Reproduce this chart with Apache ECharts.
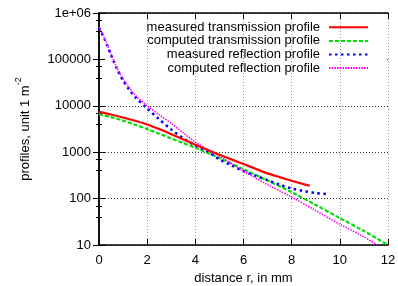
<!DOCTYPE html>
<html>
<head>
    <meta charset="utf-8">
    <title>profiles</title>
    <script src="https://cdn.jsdelivr.net/npm/echarts@6/dist/echarts.min.js"></script>
    <style>
        html, body { margin: 0; padding: 0; background: #fff; }
        #main { width: 398px; height: 286px; }
    </style>
</head>
<body>
<div id="main"></div>
<script type="text/javascript">

    // series names
    var seriesNames = ['measured transmission profile', 'computed transmission profile',
        'measured reflection profile', 'computed reflection profile'];

    // [distance r in mm, profile value]
    var measuredTransmission = [
        [0, 7400], [0.5, 6500], [1, 5600], [1.5, 4750], [2, 3950], [2.5, 3150], [3, 2450],
        [3.5, 1880], [4, 1450], [4.5, 1130], [5, 880], [5.5, 700], [6, 557], [6.5, 440],
        [7, 350], [7.5, 290], [8, 243], [8.5, 205], [8.75, 190]
    ];
    var computedTransmission = [
        [0, 6600], [0.5, 5700], [1, 4800], [1.5, 3900], [2, 3150], [2.5, 2500], [3, 1980],
        [3.5, 1570], [4, 1250], [5, 750], [6, 430], [7, 245], [8, 137], [9, 73],
        [10, 38], [11, 20], [12, 10]
    ];
    var measuredReflection = [
        [0, 480000], [0.25, 260000], [0.5, 125000], [0.75, 62000], [1, 35000], [1.25, 22500],
        [1.5, 15500], [2, 8800], [2.5, 5100], [3, 3100], [3.5, 2000], [4, 1400], [4.5, 1050],
        [5, 700], [5.5, 520], [6, 390], [6.5, 310], [7, 250], [7.5, 200], [8, 165],
        [8.5, 145], [9, 132], [9.5, 124]
    ];
    var computedReflection = [
        [0, 500000], [0.25, 270000], [0.5, 130000], [0.75, 65000], [1, 38000], [1.25, 25000],
        [1.5, 17000], [2, 10000], [2.5, 6400], [3, 4200], [3.5, 2600], [4, 1650], [4.5, 1150],
        [5, 820], [6, 390], [7, 200], [8, 108], [9, 55], [10, 28], [11, 15], [11.55, 10]
    ];

    // ticks
    var xTicks = [0, 2, 4, 6, 8, 10, 12];
    var yTicks = [10, 100, 1000, 10000, 100000, 1000000];
    var yTickText = ['10', '100', '1000', '10000', '100000', '1e+06'];

    var font = 'Liberation Sans';

    function yLabel(v) {
        var best = 0;
        for (var i = 0; i < yTicks.length; i++) {
            if (Math.abs(Math.log10(yTicks[i]) - Math.log10(v)) < Math.abs(Math.log10(yTicks[best]) - Math.log10(v))) best = i;
        }
        return yTickText[best];
    }

    var myChart = echarts.init(document.getElementById('main'));

    var option = {
        animation: false,
        textStyle: { fontFamily: font },
        grid: { left: 99, right: 10, top: 13, bottom: 41, outerBoundsMode: 'none' },
        legend: {
            orient: 'vertical',
            right: 24,
            top: 15.5,
            align: 'right',
            itemWidth: 39,
            itemHeight: 8,
            itemGap: 0,
            itemStyle: { color: 'transparent', borderWidth: 0, opacity: 0 },
            textStyle: { fontFamily: font, fontSize: 13, color: '#000', lineHeight: 13.6, padding: [0, 4, 0, 0] },
            data: seriesNames
        },
        graphic: [{
            type: 'rect',
            z: 1,
            shape: { x: 105, y: 14, width: 282, height: 73 },
            style: { fill: '#fff' }
        }],
        xAxis: [{
            type: 'value',
            min: xTicks[0],
            max: xTicks[xTicks.length - 1],
            interval: 2,
            z: 3,
            name: 'distance r, in mm',
            nameLocation: 'middle',
            nameGap: 27,
            nameTextStyle: { fontFamily: font, fontSize: 13, color: '#000' },
            axisLine: { lineStyle: { color: '#000', width: 1.5 } },
            axisTick: { inside: true, length: 6, lineStyle: { color: '#000' } },
            axisLabel: { margin: 9, fontFamily: font, fontSize: 13, color: '#000' },
            splitLine: { show: true, lineStyle: { color: '#999', type: [1, 2], width: 1 } }
        }, {
            type: 'value',
            position: 'top',
            min: xTicks[0],
            max: xTicks[xTicks.length - 1],
            interval: 2,
            z: 3,
            axisLine: { lineStyle: { color: '#000', width: 1.5 } },
            axisTick: { inside: true, length: 6, lineStyle: { color: '#000' } },
            axisLabel: { show: false },
            splitLine: { show: false }
        }],
        yAxis: [{
            type: 'log',
            logBase: 10,
            min: yTicks[0],
            max: yTicks[yTicks.length - 1],
            name: '{n|profiles, unit 1 m}{s|-2}',
            nameLocation: 'middle',
            nameGap: 67,
            nameTextStyle: {
                fontFamily: font, fontSize: 13, color: '#000',
                rich: {
                    n: { fontFamily: font, fontSize: 13, color: '#000', lineHeight: 18, verticalAlign: 'bottom' },
                    s: { fontFamily: font, fontSize: 9, color: '#000', lineHeight: 18, verticalAlign: 'top' }
                }
            },
            axisLine: { lineStyle: { color: '#000', width: 1.5 } },
            axisTick: { inside: true, length: 6, lineStyle: { color: '#000' } },
            minorTick: { show: true, splitNumber: 3, length: 3, lineStyle: { color: '#000' } },
            axisLabel: { margin: 8, fontFamily: font, fontSize: 13, color: '#000', formatter: yLabel },
            splitLine: { show: true, lineStyle: { color: '#333', type: [1, 2], width: 1 } }
        }, {
            type: 'log',
            logBase: 10,
            position: 'right',
            min: yTicks[0],
            max: yTicks[yTicks.length - 1],
            z: 3,
            axisLine: { show: true, lineStyle: { color: '#000', width: 1.5 } },
            axisTick: { show: true, inside: true, length: 6, lineStyle: { color: '#000' } },
            minorTick: { show: true, splitNumber: 3, length: 3, lineStyle: { color: '#000' } },
            axisLabel: { show: false },
            splitLine: { show: false }
        }],
        series: [{
            name: seriesNames[0],
            type: 'line',
            smooth: 0.3,
            symbol: 'none',
            z: 5,
            color: '#ff0000',
            lineStyle: { color: '#ff0000', width: 2.2 },
            data: measuredTransmission
        }, {
            name: seriesNames[1],
            type: 'line',
            smooth: 0.3,
            symbol: 'none',
            z: 4,
            color: '#00e000',
            lineStyle: { color: '#00e000', width: 2.2, type: [4, 2] },
            data: computedTransmission
        }, {
            name: seriesNames[2],
            type: 'line',
            smooth: 0.3,
            symbol: 'none',
            z: 4,
            color: '#0000ff',
            lineStyle: { color: '#0000ff', width: 2.5, type: [2.5, 3.5] },
            data: measuredReflection
        }, {
            name: seriesNames[3],
            type: 'line',
            smooth: 0.3,
            symbol: 'none',
            z: 4,
            color: '#ff00ff',
            lineStyle: { color: '#ff00ff', width: 1.5, type: [1.5, 1.2] },
            data: computedReflection
        }]
    };

    myChart.setOption(option);

</script>
</body>
</html>
